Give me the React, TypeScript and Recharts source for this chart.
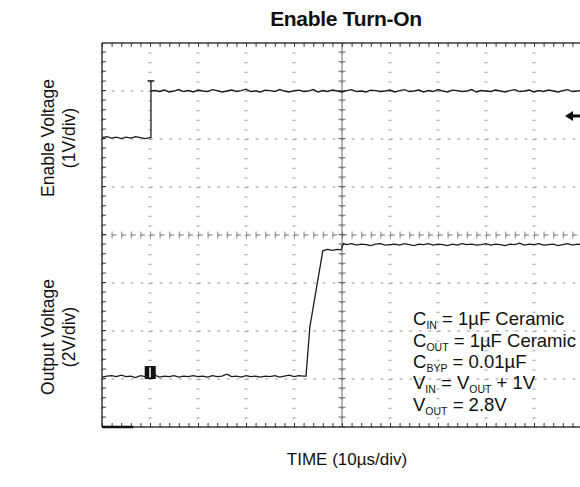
import {
  CartesianGrid,
  Line,
  LineChart,
  ReferenceArea,
  ReferenceDot,
  ReferenceLine,
  XAxis,
  YAxis
} from "recharts";

// scope screen: 10 x 8 divisions, traces are read in divisions
const majorX = [0, 1, 2, 3, 4, 5, 6, 7, 8, 9, 10];
const majorY = [0, 1, 2, 3, 4, 5, 6, 7, 8];

const SAMPLE_STEP = 0.1;

// enable trace (1V/div), low level then high level
const enableBefore = [6.03, 6.05, 6.02, 6.04, 6.01, 6.04, 6.02, 6.05, 6.03, 6.01, 6.03];
const enableEdge = [
  [1.02, 6.03],
  [1.02, 7.21],
  [1.02, 7.0]
];
const enableAfter = [
  7.01, 6.99, 7.02, 6.98, 7.0, 7.03, 6.99, 7.01, 6.98, 7.02,
  7.0, 6.99, 7.03, 7.01, 6.98, 7.0, 7.02, 6.99, 7.01, 7.04,
  6.99, 7.0, 6.98, 7.02, 7.01, 6.99, 7.03, 7.0, 6.98, 7.01,
  7.02, 6.99, 7.0, 7.03, 6.98, 7.01, 6.99, 7.02, 7.0, 6.98,
  7.01, 7.03, 6.99, 7.0, 6.98, 7.02, 7.01, 6.99, 7.0, 7.02,
  6.98, 7.01, 7.03, 6.99, 7.0, 7.02, 6.98, 7.01, 6.99, 7.03,
  7.0, 6.98, 7.02, 7.01, 6.99, 7.0, 7.03, 6.98, 7.01, 7.0,
  6.99, 7.02, 7.0, 6.98, 7.01, 7.03, 6.99, 7.0, 7.02, 6.98,
  7.01, 6.99, 7.02, 7.0, 6.98, 7.01, 7.03, 6.99, 7.0, 7.01
];

// output trace (2V/div)
const outputBefore = [
  1.04, 1.06, 1.07, 1.05, 1.08, 1.05, 1.06, 1.03, 1.07, 1.05,
  1.06, 1.08, 1.04, 1.06, 1.05, 1.07, 1.04, 1.06, 1.05, 1.07,
  1.05, 1.06, 1.04, 1.07, 1.05, 1.06, 1.1, 1.05, 1.06, 1.04,
  1.07, 1.05, 1.06, 1.04, 1.06, 1.05, 1.07, 1.04, 1.06, 1.08,
  1.05, 1.07, 1.06
];
const outputRise = [
  [4.25, 1.06],
  [4.33, 2.08],
  [4.6, 3.67],
  [4.7, 3.7],
  [4.8, 3.68],
  [4.9, 3.7],
  [4.98, 3.69],
  [5.03, 3.82]
];
const outputAfter = [
  3.8, 3.82, 3.79, 3.81, 3.8, 3.78, 3.81, 3.82, 3.79, 3.8,
  3.81, 3.79, 3.82, 3.8, 3.78, 3.81, 3.8, 3.82, 3.79, 3.81,
  3.8, 3.78, 3.81, 3.79, 3.82, 3.8, 3.81, 3.79, 3.8, 3.82,
  3.79, 3.81, 3.8, 3.78, 3.81, 3.8, 3.83, 3.79, 3.81, 3.8,
  3.82, 3.79, 3.8, 3.81, 3.78, 3.8, 3.82, 3.79, 3.81, 3.8
];

function samples(values: number[], start: number) {
  return values.map((v, i) => ({ t: Number((start + i * SAMPLE_STEP).toFixed(2)), v }));
}

function pairs(list: number[][]) {
  return list.map(([t, v]) => ({ t, v }));
}

const enableData = [...samples(enableBefore, 0), ...pairs(enableEdge), ...samples(enableAfter, 1.1)];
const outputData = [...samples(outputBefore, 0), ...pairs(outputRise), ...samples(outputAfter, 5.1)];

const font = '"Liberation Sans", Arial, Helvetica, sans-serif';
const frame = "#3a3a3a";
const grid = "#9c9c9c";
const trace = "#1c1c1c";
const blank = () => "";
// 5 minor ticks per division, 48px per division
const tickDash = "1 8.6";

function GroundArrow(props: { cx?: number; cy?: number }) {
  const { cx = 0, cy = 0 } = props;
  return (
    <g>
      <path d={`M${cx - 5},${cy} L${cx + 3},${cy - 5} L${cx + 3},${cy + 5} Z`} fill="#111" />
      <line x1={cx} y1={cy} x2={cx + 16} y2={cy} stroke="#111" strokeWidth={3} />
    </g>
  );
}

export default function App() {
  return (
    <div
      style={{
        position: "absolute",
        left: 0,
        top: 0,
        width: 580,
        height: 487,
        overflow: "hidden",
        background: "#fff"
      }}
    >
      <LineChart width={600} height={487} margin={{ top: 43, right: 18, bottom: 60, left: 102 }}>
        <XAxis
          dataKey="t"
          type="number"
          domain={[0, 10]}
          ticks={majorX}
          interval={0}
          mirror
          axisLine={false}
          tickLine={false}
          tickFormatter={blank}
          allowDataOverflow
        />
        <YAxis
          type="number"
          domain={[0, 8]}
          ticks={majorY}
          interval={0}
          mirror
          axisLine={false}
          tickLine={false}
          tickFormatter={blank}
          allowDataOverflow
        />

        <CartesianGrid vertical={false} stroke={grid} strokeDasharray="3 6.6" />
        <CartesianGrid horizontal={false} stroke={grid} strokeWidth={3} strokeDasharray={tickDash} />

        {/* centre crosshair with minor ticks */}
        <ReferenceLine y={4} stroke="#8a8a8a" strokeDasharray="5 4.6" />
        <ReferenceLine y={4} stroke="#8a8a8a" strokeWidth={7} strokeDasharray={tickDash} />
        <ReferenceLine x={5} stroke="#6a6a6a" />
        <ReferenceLine x={5} stroke="#6a6a6a" strokeWidth={7} strokeDasharray={tickDash} />

        {/* frame ticks, clipped to the inside of the screen */}
        <ReferenceLine y={8} stroke={frame} strokeWidth={8} strokeDasharray={tickDash} ifOverflow="hidden" />
        <ReferenceLine y={0} stroke={frame} strokeWidth={8} strokeDasharray={tickDash} ifOverflow="hidden" />
        <ReferenceLine x={0} stroke={frame} strokeWidth={8} strokeDasharray={tickDash} ifOverflow="hidden" />
        <ReferenceLine y={8} stroke={frame} strokeWidth={1.5} />
        <ReferenceLine y={0} stroke={frame} strokeWidth={1.5} />
        <ReferenceLine x={0} stroke={frame} strokeWidth={1.5} />

        <Line
          data={enableData}
          dataKey="v"
          type="linear"
          stroke={trace}
          strokeWidth={1.3}
          dot={false}
          isAnimationActive={false}
        />
        <Line
          data={outputData}
          dataKey="v"
          type="linear"
          stroke={trace}
          strokeWidth={1.3}
          dot={false}
          isAnimationActive={false}
        />

        <ReferenceLine
          segment={[
            { x: 0.95, y: 7.21 },
            { x: 1.09, y: 7.21 }
          ]}
          stroke={trace}
          strokeWidth={1.5}
        />
        <ReferenceArea x1={0.89} x2={1.12} y1={1.0} y2={1.27} fill="#111" fillOpacity={1} stroke="none" />
        <ReferenceLine
          segment={[
            { x: 1.0, y: 1.03 },
            { x: 1.0, y: 1.24 }
          ]}
          stroke="#fff"
          strokeWidth={1.5}
        />
        <ReferenceLine
          segment={[
            { x: 0, y: 0 },
            { x: 0.65, y: 0 }
          ]}
          stroke="#111"
          strokeWidth={2.5}
        />
        <ReferenceDot x={9.75} y={6.48} r={4} shape={<GroundArrow />} />
      </LineChart>

      <svg
        width={580}
        height={487}
        style={{ position: "absolute", left: 0, top: 0, pointerEvents: "none" }}
        fontFamily={font}
        fill="#111"
      >
        <text x={346} y={26} textAnchor="middle" fontSize={21} fontWeight="bold" letterSpacing={-0.3}>
          Enable Turn-On
        </text>

        <g fontSize={17.5} textAnchor="middle">
          <text x={54} y={138} transform="rotate(-90 54 138)">Enable Voltage</text>
          <text x={75} y={138} transform="rotate(-90 75 138)">(1V/div)</text>
          <text x={54} y={337} transform="rotate(-90 54 337)">Output Voltage</text>
          <text x={75} y={337} transform="rotate(-90 75 337)">(2V/div)</text>
        </g>
        <text x={347} y={465} textAnchor="middle" fontSize={17}>
          TIME (10µs/div)
        </text>

        <g fontSize={18.5}>
          <text x={413} y={325}>
            C<tspan fontSize={10.5} dy={3.5}>IN</tspan>
            <tspan dy={-3.5}> = 1µF Ceramic</tspan>
          </text>
          <text x={413} y={347}>
            C<tspan fontSize={10.5} dy={3.5}>OUT</tspan>
            <tspan dy={-3.5}> = 1µF Ceramic</tspan>
          </text>
          <text x={413} y={368}>
            C<tspan fontSize={10.5} dy={3.5}>BYP</tspan>
            <tspan dy={-3.5}> = 0.01µF</tspan>
          </text>
          <text x={413} y={389}>
            V<tspan fontSize={10.5} dy={3.5}>IN</tspan>
            <tspan dy={-3.5}> = V</tspan>
            <tspan fontSize={10.5} dy={3.5}>OUT</tspan>
            <tspan dy={-3.5}> + 1V</tspan>
          </text>
          <text x={413} y={411}>
            V<tspan fontSize={10.5} dy={3.5}>OUT</tspan>
            <tspan dy={-3.5}> = 2.8V</tspan>
          </text>
        </g>
      </svg>
    </div>
  );
}
